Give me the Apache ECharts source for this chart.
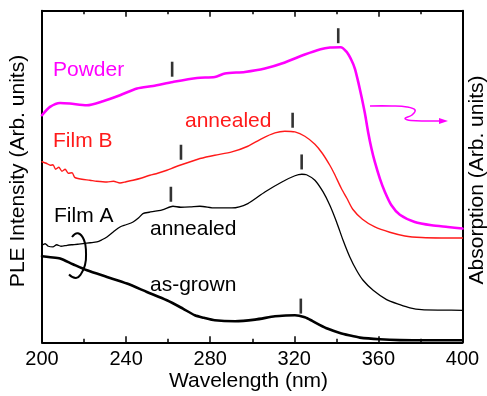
<!DOCTYPE html>
<html>
<head>
<meta charset="utf-8">
<script src="https://cdn.jsdelivr.net/npm/echarts@6/dist/echarts.min.js"></script>
<style>
html,body{margin:0;padding:0;background:#fff;}
#c{width:487px;height:396px;}
</style>
</head>
<body>
<div id="c"></div>
<script>
// Wavelength (nm) vs intensity (arbitrary units)
const xTicks = [200, 240, 280, 320, 360, 400];

const powder = [[200,227],[203.8,235.3],[208.6,239.3],[213.3,238.7],[221.3,237],[229,241],[237.1,247],[245.2,253.7],[252.8,256.3],[262.3,260.3],[273.7,264.3],[282.2,265.3],[287,268.7],[296.5,270.3],[306,273.7],[315.5,279.7],[325,287.7],[332.5,293],[337,294.7],[342,295],[344.9,290.3],[347.2,282],[348.8,273.7],[350.4,260.3],[352,245.3],[353.6,228.7],[355.1,210.3],[356.7,193.7],[358.3,180.3],[360.7,163.7],[363.1,150.3],[366.2,137],[370.2,127.5],[377.3,120.3],[385.3,117],[393,115.3],[400,113.7]];

const filmB = [[200,180.5],[202,179],[204,177],[205.2,177.5],[206.5,173],[208,175],[209.5,171],[211,173],[212.5,169],[214.3,169.5],[215.5,165],[216.6,164],[219,163],[222.8,162],[226,161],[230.9,160.3],[234,161],[237.1,159.3],[240,160.5],[243.3,162],[247,164],[251.3,167],[255,169],[259.4,172],[263,175],[267,178],[272.7,182],[275.1,183.7],[282.2,187],[290.3,190.3],[297.9,196],[304.6,203.7],[310.8,209.3],[315.5,211],[320.3,210.3],[325,206],[329.8,198],[333.3,189],[336.9,177],[338.8,169.5],[342.4,153.7],[345,144],[347.8,133],[352.4,123],[358.3,115.3],[365.4,110],[372.6,106.3],[380.6,104.7],[390,104.3],[400,104.3]];

const filmAAnnealed = [[200,97],[201.5,98.5],[203,96],[205.2,95.3],[207,97.5],[209,96],[211.9,97],[214,97.5],[217,98],[219.5,98.7],[223,99.5],[226.1,100.3],[228.5,102.5],[230.9,105.3],[234,110.5],[237.1,115.3],[240,117.5],[243.3,120.3],[246,124.5],[248,128.7],[251,130],[254.7,131.3],[258,133],[262.3,136],[266,135],[270.4,135.3],[275.1,136],[282.2,134.3],[290.3,134.3],[297.9,138.7],[306,150.3],[314.1,160.3],[320.3,166.5],[323.6,168],[325.8,167.5],[329.8,162],[333.7,150.3],[336.9,137],[340.1,120.3],[343.2,102],[346.4,85.3],[349.6,72],[352.7,62],[357.5,52],[363.9,42.7],[370.2,37.7],[375,34.5],[380.6,32.7],[390,32.2],[400,32]];

const filmAGrown = [[200,86],[204,85],[208.6,83.7],[214.7,78],[221.4,72],[230.9,65.3],[240.4,58.7],[249.9,50.3],[259.4,42],[267,33.7],[272.7,27],[277,24.5],[282.2,22],[291.8,21],[301.3,22.7],[310.8,26],[316,26.8],[320.3,27],[325,25],[328.5,21.5],[332,17.5],[336,13.5],[341.7,9.3],[346,7],[351.2,4.7],[360.7,3],[370.2,2.2],[385,2],[400,2]];

// peak position markers: [wavelength, height]
const peakMarks = [[261.9,273],[340.9,306.5],[266.1,190],[319.2,222],[261.3,148],[323.5,180.3],[323.1,36.2]];

const FONT = 'Liberation Sans, Arial, Helvetica, sans-serif';
const MAG = '#ff00ff', RED = '#ff1a1a', BLK = '#000000';

const chart = echarts.init(document.getElementById('c'), null, {renderer:'canvas'});

function lineSeries(data, color, width) {
  return {
    type: 'line', data: data, showSymbol: false, symbol: 'none',
    smooth: 0.25,
    lineStyle: {color: color, width: width, join: 'round', cap: 'round'}, z: 3, silent: true
  };
}

const axisX = (pos, showLabel) => ({
  type: 'value', position: pos, min: xTicks[0], max: xTicks[xTicks.length-1],
  interval: xTicks[1]-xTicks[0],
  axisLine: {show: true, onZero: false, lineStyle: {color: BLK, width: 2}},
  axisTick: {show: true, inside: true, length: 6, lineStyle: {color: BLK, width: 1.5}},
  minorTick: {show: true, splitNumber: 2, length: 3.5, lineStyle: {color: BLK, width: 1.5}},
  axisLabel: {show: showLabel, color: BLK, fontSize: 20, fontFamily: FONT, margin: 7},
  splitLine: {show: false}
});
const axisY = (pos) => ({
  type: 'value', position: pos, min: 0, max: 331.5,
  axisLine: {show: true, onZero: false, lineStyle: {color: BLK, width: 2}},
  axisTick: {show: false}, axisLabel: {show: false}, splitLine: {show: false}
});

const txt = (x, y, s, color, extra) => Object.assign({
  type: 'text', x: x, y: y, silent: true,
  style: {text: s, fill: color, font: '21px ' + FONT, textVerticalAlign: 'middle', textAlign: 'left'}
}, extra || {});

chart.setOption({
  animation: false,
  backgroundColor: '#ffffff',
  grid: {left: 42, right: 24.5, top: 10.7, bottom: 53.7, containLabel: false},
  xAxis: [axisX('bottom', true), axisX('top', false)],
  yAxis: [axisY('left'), axisY('right')],
  series: [
    lineSeries(powder, MAG, 2.6),
    lineSeries(filmB, RED, 1.4),
    lineSeries(filmAAnnealed, BLK, 1.3),
    lineSeries(filmAGrown, BLK, 2.6),
    {type: 'scatter', data: peakMarks, symbol: 'rect', symbolSize: [2.6, 15],
     itemStyle: {color: BLK}, z: 4, silent: true}
  ],
  graphic: [
    txt(53, 70, 'Powder', MAG),
    txt(53, 141.5, 'Film B', RED),
    txt(185, 121.5, 'annealed', RED),
    txt(54, 216, 'Film A', BLK),
    txt(150, 229.5, 'annealed', BLK),
    txt(150, 285, 'as-grown', BLK),
    {type: 'text', x: 248.5, y: 381, silent: true,
     style: {text: 'Wavelength (nm)', fill: BLK, font: '21px ' + FONT, textAlign: 'center', textVerticalAlign: 'middle'}},
    {type: 'text', x: 18, y: 171, rotation: Math.PI/2, silent: true,
     style: {text: 'PLE Intensity (Arb. units)', fill: BLK, font: '21px ' + FONT, textAlign: 'center', textVerticalAlign: 'middle'}},
    {type: 'text', x: 477, y: 180, rotation: Math.PI/2, silent: true,
     style: {text: 'Absorption (Arb. units)', fill: BLK, font: '21px ' + FONT, textAlign: 'center', textVerticalAlign: 'middle'}},
    {type: 'polyline', silent: true, z: 10,
     shape: {points: [[370,106],[392,106],[407,107],[415,110],[412,115],[405,118.5],[411,120.5],[428,121],[441,121]], smooth: 0.4},
     style: {stroke: MAG, lineWidth: 1.6, fill: null}},
    {type: 'polygon', silent: true, z: 10,
     shape: {points: [[448,121],[439,118],[439,124]]},
     style: {fill: MAG}},
    {type: 'polyline', silent: true, z: 10,
     shape: {points: [[72,237],[78,233.3],[84,240],[86,253],[85,265],[81,274],[76,278],[69,274.5]], smooth: 0.5},
     style: {stroke: BLK, lineWidth: 2, fill: null}}
  ]
});
</script>
</body>
</html>
